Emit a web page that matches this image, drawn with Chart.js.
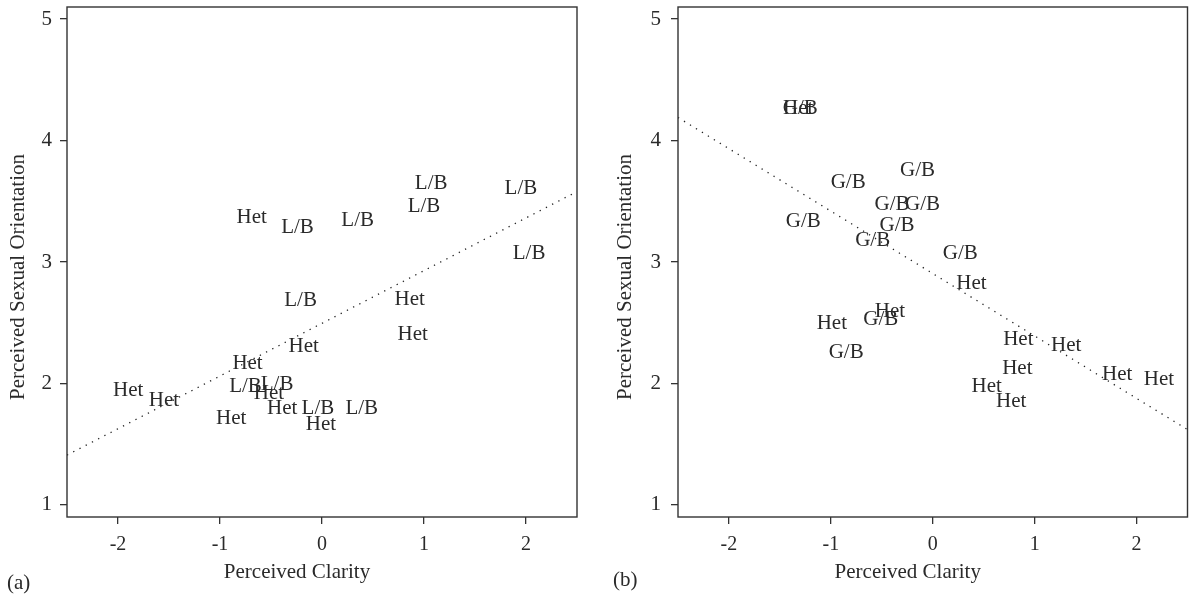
<!DOCTYPE html>
<html>
<head>
<meta charset="utf-8">
<style>
  html, body { margin: 0; padding: 0; background: #fff; }
  #wrap { position: relative; width: 1189px; height: 595px; overflow: hidden; }
  canvas { position: absolute; top: 0; }
  #panelA { left: 0; }
  #panelB { left: 594px; }
</style>
<script src="https://cdn.jsdelivr.net/npm/chart.js@4.4.1/dist/chart.umd.min.js"></script>
</head>
<body>
<div id="wrap">
  <canvas id="panelA" width="594" height="595"></canvas>
  <canvas id="panelB" width="595" height="595"></canvas>
</div>
<script>
// tick labels
const xTicks = [-2, -1, 0, 1, 2];
const yTicks = [1, 2, 3, 4, 5];

// panel (a): heterosexual vs lesbian/bisexual targets
const hetAx = [-1.90, -1.55, -0.73, -0.18, -0.52, -0.39, -0.89, -0.01, 0.86, 0.89, -0.69];
const hetAy = [1.96, 1.88, 2.18, 2.32, 1.93, 1.81, 1.73, 1.68, 2.71, 2.42, 3.38];
const lbAx = [-0.75, -0.44, -0.04, 0.39, 1.07, 1.95, 1.00, 0.35, -0.24, 2.03, -0.21];
const lbAy = [1.99, 2.01, 1.81, 1.81, 3.66, 3.62, 3.47, 3.36, 3.30, 3.09, 2.70];
const fitAx = [-2.5, 2.5];
const fitAy = [1.41, 3.58];

// panel (b): heterosexual vs gay/bisexual targets
const gbBx = [-1.30, -0.83, -1.27, -0.59, -0.15, -0.40, -0.10, -0.35, 0.27, -0.51, -0.85];
const gbBy = [4.28, 3.67, 3.35, 3.19, 3.77, 3.49, 3.49, 3.32, 3.09, 2.54, 2.27];
const hetBx = [-1.32, 0.38, -0.42, 0.84, 1.31, 0.83, 0.53, 0.77, 1.81, 2.22, -0.99];
const hetBy = [4.28, 2.84, 2.61, 2.38, 2.33, 2.14, 1.99, 1.87, 2.09, 2.05, 2.51];
const fitBx = [-2.5, 2.5];
const fitBy = [4.19, 1.62];

const SERIF = "'Liberation Serif', 'Times New Roman', serif";
const INK = "#2a2a2a";

function pts(xs, ys) {
  return xs.map((x, i) => ({ x: x, y: ys[i] }));
}

function labelSet(name, xs, ys) {
  return { label: name, data: pts(xs, ys), pointRadius: 0, showLine: false, textMark: true };
}

function fitLine(xs, ys) {
  return {
    label: "fit",
    data: pts(xs, ys),
    showLine: true,
    pointRadius: 0,
    borderColor: "#222",
    borderWidth: 1.3,
    borderDash: [1.3, 5.7],
    fill: false,
  };
}

// draws the text marks, the frame, axis titles and the panel tag
const panelDecor = {
  id: "panelDecor",
  afterDatasetsDraw(chart, args, opts) {
    const ctx = chart.ctx;
    ctx.save();
    ctx.fillStyle = INK;
    ctx.font = "21px " + SERIF;
    ctx.textAlign = "center";
    ctx.textBaseline = "middle";
    chart.data.datasets.forEach((ds, i) => {
      if (!ds.textMark) return;
      chart.getDatasetMeta(i).data.forEach((el) => {
        // canvas "middle" sits the caps a touch high, nudge down
        ctx.fillText(ds.label, el.x, el.y + 2);
      });
    });
    ctx.restore();
  },
  afterDraw(chart, args, opts) {
    const ctx = chart.ctx;
    const a = chart.chartArea;
    ctx.save();
    ctx.strokeStyle = "#333";
    ctx.lineWidth = 1.4;
    ctx.strokeRect(a.left, a.top, a.right - a.left, a.bottom - a.top);

    ctx.fillStyle = INK;
    ctx.font = "21px " + SERIF;
    ctx.textAlign = "center";
    ctx.textBaseline = "middle";
    ctx.fillText("Perceived Clarity", (a.left + a.right) / 2 - 25, 572);

    ctx.save();
    ctx.translate(opts.yTitleX, (a.top + a.bottom) / 2 + 15);
    ctx.rotate(-Math.PI / 2);
    ctx.fillText("Perceived Sexual Orientation", 0, 0);
    ctx.restore();

    ctx.textAlign = "left";
    ctx.textBaseline = "alphabetic";
    ctx.fillText(opts.tag, opts.tagX, opts.tagY);
    ctx.restore();
  },
};

function makeChart(id, datasets, yWidth, rightPad, decor) {
  const ctx = document.getElementById(id).getContext("2d");
  return new Chart(ctx, {
    type: "scatter",
    data: { datasets: datasets },
    options: {
      responsive: false,
      animation: false,
      layout: { padding: { left: 0, right: rightPad, top: 7, bottom: 0 } },
      plugins: {
        legend: { display: false },
        tooltip: { enabled: false },
        panelDecor: decor,
      },
      scales: {
        x: {
          type: "linear",
          min: -2.5,
          max: 2.5,
          afterBuildTicks: (s) => { s.ticks = xTicks.map((v) => ({ value: v })); },
          afterFit: (s) => {
            s.height = 78;
            s.paddingLeft = 0;
            s.paddingRight = 0;
          },
          border: { display: false },
          grid: { drawOnChartArea: false, drawTicks: true, tickLength: 7, color: "#333", lineWidth: 1.3 },
          ticks: {
            font: { family: SERIF, size: 20 },
            color: INK,
            padding: 9,
            maxRotation: 0,
            autoSkip: false,
            callback: (v) => String(v),
          },
        },
        y: {
          type: "linear",
          min: 0.9,
          max: 5.1,
          afterBuildTicks: (s) => { s.ticks = yTicks.map((v) => ({ value: v })); },
          afterFit: (s) => {
            s.width = yWidth;
            s.paddingTop = 0;
            s.paddingBottom = 0;
          },
          border: { display: false },
          grid: { drawOnChartArea: false, drawTicks: true, tickLength: 7, color: "#333", lineWidth: 1.3 },
          ticks: {
            font: { family: SERIF, size: 21 },
            color: INK,
            padding: decor.tickPad,
            autoSkip: false,
            callback: (v) => String(v),
          },
        },
      },
    },
    plugins: [panelDecor],
  });
}

makeChart(
  "panelA",
  [labelSet("Het", hetAx, hetAy), labelSet("L/B", lbAx, lbAy), fitLine(fitAx, fitAy)],
  67, 17,
  { tag: "(a)", tagX: 7, tagY: 589, yTitleX: 18, tickPad: 8 }
);

makeChart(
  "panelB",
  [labelSet("G/B", gbBx, gbBy), labelSet("Het", hetBx, hetBy), fitLine(fitBx, fitBy)],
  84, 1.5,
  { tag: "(b)", tagX: 19, tagY: 586, yTitleX: 31, tickPad: 10 }
);
</script>
</body>
</html>
